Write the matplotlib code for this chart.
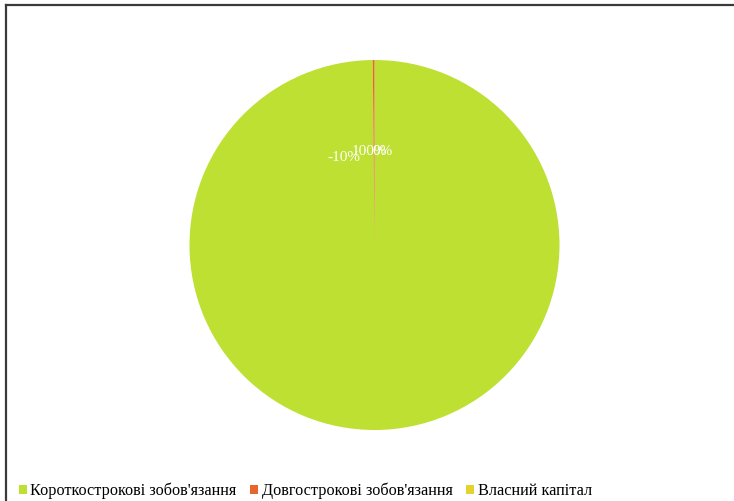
import numpy as np
import matplotlib.pyplot as plt
from matplotlib.patches import Patch
from matplotlib.lines import Line2D

# Structure of liabilities, shares in percent as labelled on the chart
categories = ["Короткострокові зобов'язання", "Довгострокові зобов'язання", "Власний капітал"]
shares = [100.0, 0.15, -10.0]
labels = ["100%", "0%", "-10%"]
colors = ["#bde032", "#e8662c", "#e6d22e"]

plt.rcParams['font.family'] = ['Liberation Serif', 'DejaVu Serif']

fig = plt.figure(figsize=(7.34, 5.01), dpi=100)

# outer frame (only left and top edges are visible in the picture)
fig.add_artist(Line2D([6 / 734, 6 / 734], [0, 1 - 5 / 501], color="#3a3a3a", lw=1.6,
                      transform=fig.transFigure))
fig.add_artist(Line2D([6 / 734, 1], [1 - 5 / 501, 1 - 5 / 501], color="#3a3a3a", lw=1.6,
                      transform=fig.transFigure))

cx, cy, r = 374.5, 245, 185
ax = fig.add_axes([(cx - r) / 734, (501 - cy - r) / 501, 2 * r / 734, 2 * r / 501])

# pie can't take negative values, draw only the positive parts
vals = [max(v, 0) for v in shares]
wedges, _ = ax.pie(vals, colors=colors, startangle=90, counterclock=False,
                   wedgeprops=dict(linewidth=0))
ax.set_xlim(-1, 1)
ax.set_ylim(-1, 1)
ax.set_aspect('equal')
ax.axis('off')

# data labels, placed near the top as in the reference (they overlap there too)
label_pos = [(-0.025, 0.505), (0.045, 0.505), (-0.165, 0.475)]
for lab, (x, y) in zip(labels, label_pos):
    ax.text(x, y, lab, color="white", fontsize=11, ha="center", va="center")

handles = [Patch(facecolor=c, edgecolor='none') for c in colors]
fig.legend(handles, categories, loc="lower left", bbox_to_anchor=(9 / 734, -8 / 501),
           ncol=3, frameon=False, fontsize=11.7, handlelength=0.5, handleheight=0.5,
           handletextpad=0.2, columnspacing=0.85, borderaxespad=0.2)

fig.savefig("out.png", dpi=100)
